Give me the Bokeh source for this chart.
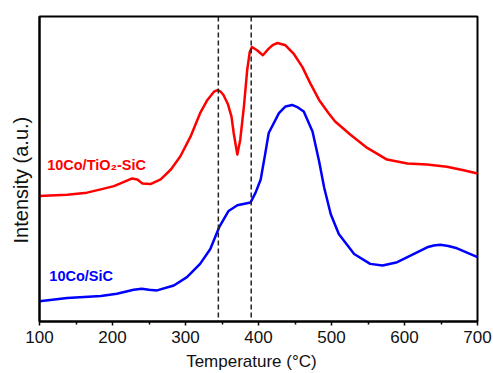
from bokeh.plotting import figure
from bokeh.models import Span, Range1d, FixedTicker, Label
from bokeh.embed import file_html
from bokeh.resources import INLINE

# Temperature (°C) and intensity (a.u.)
red_T = [100, 138, 165, 184, 202, 215, 227, 234, 241, 252, 266, 280, 293, 307, 320, 330,
         339, 344, 348, 352, 358, 363, 366, 371, 375, 380, 384.5, 388, 391, 398, 406, 414, 420, 426,
         437, 448, 460, 471, 483, 496, 505, 526, 549, 576, 604, 631, 658, 681, 700]
red_I = [126.3, 127.7, 129.7, 133, 136.3, 140.3, 144, 143, 139, 138.3, 143, 153, 166.3, 186.3, 209.7, 223,
         231.3, 233, 231.5, 228, 219, 206.3, 189.7, 168, 183, 216.3, 253, 271.3, 276.3, 273, 268, 274.7, 278.5, 280.3,
         278, 269.7, 256.3, 239.7, 223, 209.7, 201.3, 188, 174.7, 163, 159, 158, 155.7, 152.3, 149]

blue_T = [100, 138, 161, 184, 206, 229, 240, 250, 261, 284, 302, 320, 334, 346, 359, 371,
          389, 396, 403, 409, 414, 428, 437, 446, 454, 462, 474, 483, 490, 499, 510, 531, 553, 570,
          590, 613, 631, 640, 649, 660, 672, 700]
blue_I = [20.3, 23.7, 24.7, 25.7, 28, 32, 33, 32, 31.3, 36.3, 44.7, 58, 73, 94.7, 111.3, 117,
          119.7, 129.7, 143, 168, 189.7, 209.7, 216.5, 218, 215.5, 211.3, 191.3, 161.3, 134.7, 108, 88, 68, 58, 56.3,
          59.7, 68, 74.7, 76.5, 77.3, 76, 73.7, 64.7]

dash_T = [345, 390]
x_ticks = [100, 200, 300, 400, 500, 600, 700]
x_minor = [150, 250, 350, 450, 550, 650]

labels = ["10Co/TiO\u2082-SiC", "10Co/SiC"]
label_T = [110.5, 113.5]
label_I = [158, 45.3]
label_colors = ["#ff0000", "#0000ff"]

FONT = "Liberation Sans"

p = figure(width=493, height=373, output_backend="svg", toolbar_location=None,
           x_range=Range1d(100, 700), y_range=Range1d(0, 307),
           min_border_left=39, min_border_right=16, min_border_top=16, min_border_bottom=50)
p.xgrid.visible = False
p.ygrid.visible = False
p.outline_line_color = "black"
p.outline_line_width = 2
p.background_fill_color = "white"
p.border_fill_color = "white"

for v in dash_T:
    p.add_layout(Span(location=v, dimension="height", line_color="#222222",
                      line_width=1.5, line_dash="5 3"))

p.line(red_T, red_I, line_color="#ff0000", line_width=2.5, line_join="round")
p.line(blue_T, blue_I, line_color="#0000ff", line_width=2.5, line_join="round")

for t, x, y, c in zip(labels, label_T, label_I, label_colors):
    p.add_layout(Label(x=x, y=y, text=t, text_color=c, text_font=FONT,
                       text_font_size="14.5px", text_font_style="bold",
                       text_baseline="middle", text_align="left"))

xa = p.xaxis[0]
xa.ticker = FixedTicker(ticks=x_ticks, minor_ticks=x_minor)
xa.axis_line_width = 2
xa.axis_line_color = "black"
xa.major_tick_in = 0
xa.major_tick_out = 4
xa.minor_tick_in = 0
xa.minor_tick_out = 3
xa.major_tick_line_width = 1.5
xa.minor_tick_line_width = 1.5
xa.major_label_text_font = FONT
xa.major_label_text_font_size = "17px"
xa.major_label_text_color = "#111111"
xa.major_label_standoff = 5
xa.axis_label = "Temperature (\u00b0C)" + "\u00a0" * 3
xa.axis_label_text_font = FONT
xa.axis_label_text_font_size = "17px"
xa.axis_label_text_font_style = "normal"
xa.axis_label_text_color = "#111111"
xa.axis_label_standoff = 6

ya = p.yaxis[0]
ya.ticker = FixedTicker(ticks=[])
ya.axis_line_width = 2
ya.axis_line_color = "black"
ya.major_tick_line_color = None
ya.minor_tick_line_color = None
ya.axis_label = "Intensity (a.u.)" + "\u00a0" * 4
ya.axis_label_text_font = FONT
ya.axis_label_text_font_size = "20px"
ya.axis_label_text_font_style = "normal"
ya.axis_label_text_color = "#111111"
ya.axis_label_standoff = 8

open("out.html", "w").write(file_html(p, INLINE))
